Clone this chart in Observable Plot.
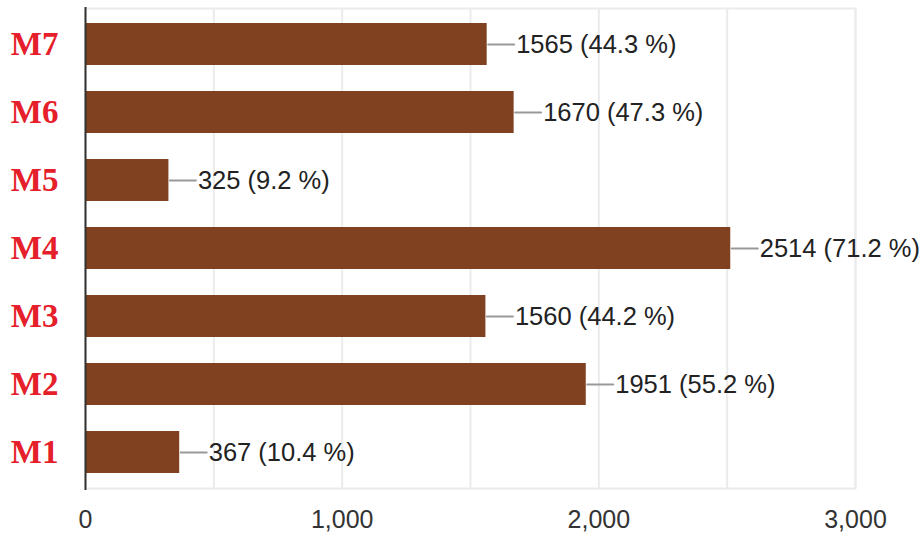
<!DOCTYPE html>
<html>
<head>
<meta charset="utf-8">
<script src="https://cdn.jsdelivr.net/npm/d3@7"></script>
<script src="https://cdn.jsdelivr.net/npm/@observablehq/plot@0.6"></script>
<style>
  html, body { margin: 0; padding: 0; background: #fff; }
</style>
</head>
<body>
<div id="chart"></div>
<script>
const names = ["M1", "M2", "M3", "M4", "M5", "M6", "M7"];
const counts = [367, 1951, 1560, 2514, 325, 1670, 1565];
const percents = ["10.4", "55.2", "44.2", "71.2", "9.2", "47.3", "44.3"];
const xTicks = [0, 1000, 2000, 3000];
const gridTicks = [0, 500, 1000, 1500, 2000, 2500, 3000];

const data = names.map((n, i) => ({name: n, value: counts[i], label: `${counts[i]} (${percents[i]} %)`}));

const leader = {
  draw(context, length) {
    context.moveTo(0, 0);
    context.lineTo(0, -length);
  }
};

const chart = Plot.plot({
  width: 922,
  height: 535,
  marginLeft: 85,
  marginRight: 67,
  marginTop: 8,
  marginBottom: 47,
  style: {fontFamily: "'Liberation Sans', Arial, sans-serif", background: "#fff"},
  x: {domain: [0, 3000], axis: null, label: null},
  y: {domain: names.slice().reverse(), paddingInner: 0.38, paddingOuter: 0.19, axis: null},
  marks: [
    Plot.frame({stroke: "#ebebeb", strokeWidth: 2}),
    Plot.ruleX(gridTicks, {stroke: "#ebebeb", strokeWidth: 2}),
    Plot.barX(data, {y: "name", x: "value", fill: "#7f4120"}),
    Plot.ruleX([0], {stroke: "#333", strokeWidth: 2, insetTop: -1, insetBottom: -2}),
    Plot.vector(data, {x: "value", y: "name", rotate: 90, length: 26, anchor: "start", shape: leader, stroke: "#999", strokeWidth: 2, dx: 1}),
    Plot.text(data, {x: "value", y: "name", text: "label", textAnchor: "start", dx: 29, fontSize: 25.5, fill: "#222"}),
    Plot.text(names, {y: d => d, frameAnchor: "left", dx: -27, textAnchor: "end", text: d => d, fontSize: 33, fontWeight: "bold", fontFamily: "'Liberation Serif', 'DejaVu Serif', serif", fill: "#e5202a"}),
    Plot.axisX({ticks: xTicks, tickSize: 0, tickPadding: 22, tickFormat: d3.format(","), fontSize: 25, fill: "#333", label: null})
  ]
});
document.getElementById("chart").appendChild(chart);
</script>
</body>
</html>
